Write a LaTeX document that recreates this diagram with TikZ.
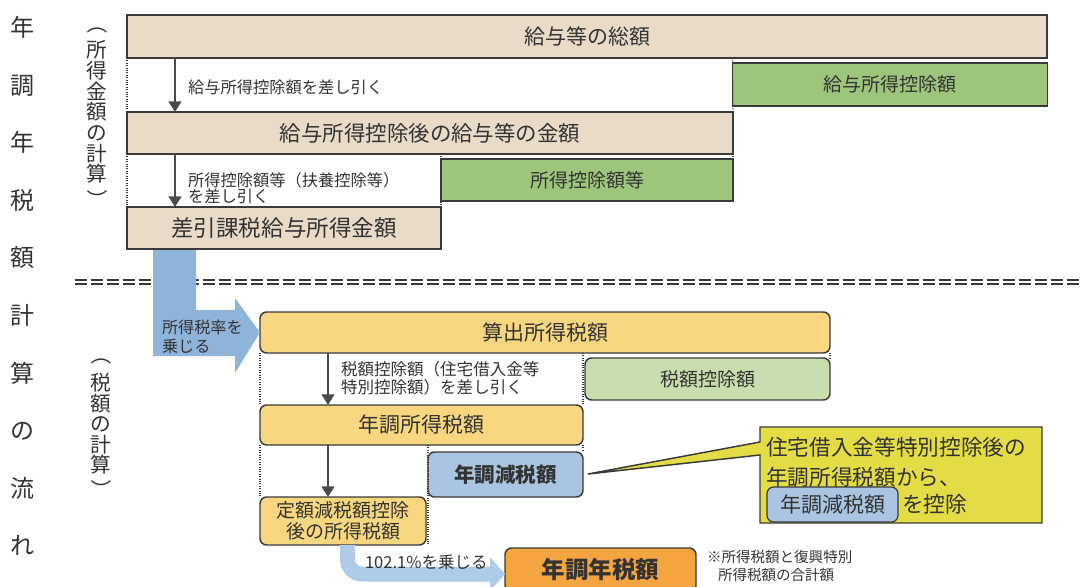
\documentclass[tikz,border=0pt]{standalone}
\usepackage{fontspec}
\setmainfont{Noto Sans CJK JP}
\usetikzlibrary{arrows.meta,calc}
\definecolor{ink}{HTML}{333333}
\definecolor{edge}{HTML}{3A3A3A}
\definecolor{tanc}{HTML}{EADBC9}
\definecolor{grnc}{HTML}{9DC57C}
\definecolor{lgrnc}{HTML}{C8DEAE}
\definecolor{ylwc}{HTML}{F8D780}
\definecolor{bluc}{HTML}{A9C5E1}
\definecolor{orgc}{HTML}{F4A540}
\definecolor{callc}{HTML}{E3DC45}
\definecolor{arrc}{HTML}{4A4A48}
\definecolor{barc}{HTML}{8FB4DA}
\definecolor{lbarc}{HTML}{AECCE8}
\newcommand\fsa[2]{\fontsize{#1}{#2}\selectfont}
\tikzset{
  every node/.style={inner sep=0pt, outer sep=0pt, text=ink},
  px/.style 2 args={minimum width={#1*0.75pt}, minimum height={#2*0.75pt}},
  boxline/.style={draw=edge, line width=1.1pt},
  tanbox/.style={boxline, fill=tanc},
  grnbox/.style={boxline, fill=grnc},
  ylwbox/.style={boxline, fill=ylwc, rounded corners=5pt},
  lgrnbox/.style={boxline, fill=lgrnc, rounded corners=5pt},
  blubox/.style={boxline, fill=bluc, rounded corners=5pt},
  orgbox/.style={boxline, fill=orgc, rounded corners=5pt},
  dotline/.style={draw=edge, densely dotted, line width=0.8pt},
  downarr/.style={draw=arrc, line width=2.2pt, -{Triangle[length=8pt 0 0, width=9.5pt 0 0]}},
  lbl/.style={font=\fsa{12.2}{12.2}, anchor=west, align=left},
  vparen/.style={font=\fsa{15.5}{15.5}, rotate=-90},
}
\begin{document}
\begin{tikzpicture}[x=0.75pt, y=-0.75pt]
\useasboundingbox (0,0) rectangle (1082,586);
\clip (0,0) rectangle (1082,586);
\fill[white] (0,0) rectangle (1082,586);

% left column titles
\node[font=\fsa{18}{43.2}, align=center, text=ink] (title) at (22,286)
  {年\\調\\年\\税\\額\\計\\算\\の\\流\\れ};
\node[font=\fsa{15.5}{15.5}, align=center] (sec1) at (97,112)
  {所\\得\\金\\額\\の\\計\\算};
\node[vparen] (sec1a) at (97,24) {（};
\node[vparen] (sec1b) at (97,200) {）};
\node[font=\fsa{15.5}{15.4}, align=center] (sec2) at (101,424)
  {税\\額\\の\\計\\算};
\node[vparen] (sec2a) at (101,355) {（};
\node[vparen] (sec2b) at (101,490) {）};

% ---------- income section ----------
\node[tanbox, px={920}{43}, font=\fsa{15.75}{16}] (total) at (587,36.5) {給与等の総額};
\node[grnbox, px={315}{43}, font=\fsa{14.25}{15}] (kyuded) at (890,84.5) {給与所得控除額};
\node[tanbox, px={606}{42}, font=\fsa{16.1}{17}] (after) at (430,133) {給与所得控除後の給与等の金額};
\node[grnbox, px={292}{42}, font=\fsa{14.25}{15}] (shotoku) at (587,180) {所得控除額等};
\node[tanbox, px={314}{42}, font=\fsa{16.9}{17}] (sashi) at (284,228) {差引課税給与所得金額};

\coordinate (ax) at (175,0);
\draw[dotline] (total.south west) -- (after.north west);
\draw[dotline] (after.south west) -- (sashi.north west);
\draw[dotline] (total.south -| kyuded.west) -- (after.north east);
\draw[dotline] (after.south east) -- (shotoku.north east);
\draw[dotline] (after.south -| sashi.east) -- (sashi.north east);

\draw[downarr] (total.south -| ax) -- (after.north -| ax);
\draw[downarr] (after.south -| ax) -- (sashi.north -| ax);
\node[lbl] (l1) at (188,87) {給与所得控除額を差し引く};
\node[lbl, font=\fsa{12.2}{12.3}] (l2) at (188,188) {所得控除額等（扶養控除等）\\を差し引く};

% separator
\coordinate (sepL) at (75,282);
\coordinate (sepR) at (1082,282);
\draw[draw=edge, line width=1.1pt, double=white, double distance=1.9pt, dash pattern=on 9pt off 3pt] (sepL) -- (sepR);

% ---------- tax section ----------
\node[ylwbox, px={570}{41}, font=\fsa{15.75}{16}] (santo) at (545,332.5) {算出所得税額};
\node[lgrnbox, px={245}{42}, font=\fsa{14.25}{15}] (zeigaku) at (707.5,379) {税額控除額};
\node[ylwbox, px={323}{40}, font=\fsa{15.75}{16}] (nencho) at (421.5,425) {年調所得税額};
\node[blubox, px={155}{45}, font=\bfseries\fsa{15.4}{16}] (gengen) at (505.5,474.5) {年調減税額};
\node[ylwbox, px={166}{48}, font=\fsa{14.25}{15.75}, align=center] (teigaku) at (343,521) {定額減税額控除\\後の所得税額};
\node[orgbox, px={191}{44}, font=\bfseries\fsa{17.6}{18}] (nenzei) at (600.5,570) {年調年税額};

% blue arrow from income to tax section
\fill[barc] (153,250) -- (196,250) -- (196,310) -- (235,310) -- (235,298)
  -- (santo.west) -- (235,373) -- (235,356) -- (153,356) -- cycle;
\node[lbl, font=\fsa{12.1}{14.3}] (l3) at (162,337) {所得税率を\\乗じる};

\coordinate (bx) at (328,0);
\draw[dotline] (santo.south west) -- (nencho.north west);
\draw[dotline] (nencho.south west) -- (teigaku.north west);
\draw[dotline] (santo.south -| nencho.east) -- (nencho.north east);
\draw[dotline] (santo.south east) -- (zeigaku.north east);
\draw[dotline] (nencho.south east) -- (gengen.north east);
\draw[dotline] (nencho.south -| gengen.west) -- (teigaku.south -| gengen.west);

\draw[downarr] (santo.south -| bx) -- (nencho.north -| bx);
\draw[downarr] (nencho.south -| bx) -- (teigaku.north -| bx);
\node[lbl, font=\fsa{12.4}{13.9}] (l4) at (341,378) {税額控除額（住宅借入金等\\特別控除額）を差し引く};

% bottom blue arrow
\coordinate (cx) at (347.5,0);
\draw[lbarc, line width=11.25pt, rounded corners=11pt] (teigaku.south -| cx) |- (491,574);
\fill[lbarc] (490,557) -- (nenzei.west |- 0,574) -- (490,591) -- cycle;
\node[lbl, font=\fsa{12.4}{13}] (l5) at (365,562) {102.1\%を乗じる};

% callout
\node[px={282}{96}] (callbox) at (901,475) {};
\coordinate (tip) at (588,474);
\draw[boxline, fill=callc] (callbox.north west) -- (callbox.north east) -- (callbox.south east)
  -- (callbox.south west) -- ($(callbox.north west)+(0,28)$) -- (tip)
  -- ($(callbox.north west)+(0,15)$) -- cycle;
\node[anchor=west, font=\fsa{16.25}{17}] (c1) at (766,447) {住宅借入金等特別控除後の};
\node[anchor=west, font=\fsa{16.25}{17}] (c2) at (766,477) {年調所得税額から、};
\node[blubox, line width=0.9pt, px={131}{35}, font=\fsa{15.75}{16}, anchor=west] (c3) at (767,504.5) {年調減税額};
\node[anchor=west, font=\fsa{16.25}{17}] (c4) at (902,504) {を控除};

% note
\node[anchor=west, font=\fsa{10.9}{11}] (n1) at (707,557) {※所得税額と復興特別};
\node[anchor=west, font=\fsa{10.9}{11}] (n2) at (718,575) {所得税額の合計額};
\end{tikzpicture}
\end{document}
